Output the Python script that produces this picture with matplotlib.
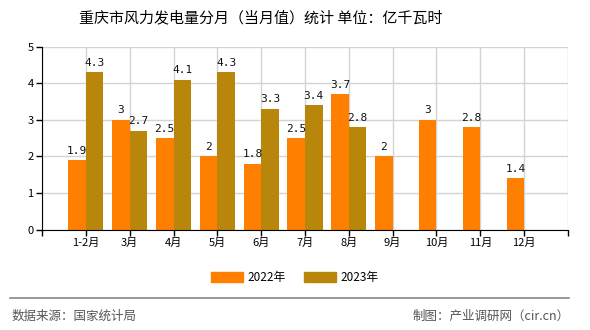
import numpy as np
import matplotlib
matplotlib.use('Agg')
import matplotlib.pyplot as plt
from matplotlib.patches import Patch
from matplotlib.lines import Line2D

plt.rcParams['font.family'] = ['Noto Sans CJK SC', 'DejaVu Sans']

meses = ['1-2月', '3月', '4月', '5月', '6月', '7月', '8月', '9月', '10月', '11月', '12月']
valores_2022 = [1.9, 3, 2.5, 2, 1.8, 2.5, 3.7, 2, 3, 2.8, 1.4]
valores_2023 = [4.3, 2.7, 4.1, 4.3, 3.3, 3.4, 2.8]
titulo = '重庆市风力发电量分月（当月值）统计 单位：亿千瓦时'

cor_2022 = '#FF8000'
cor_2023 = '#B8860B'

fig = plt.figure(figsize=(5.9, 3.3), dpi=100)
ax = fig.add_axes([0.0712, 0.3045, 0.8915, 0.554])

x = np.arange(1, len(meses) + 1)
largura = 0.4
x23 = x[:len(valores_2023)]

b22 = ax.bar(x - largura / 2, valores_2022, largura, color=cor_2022, zorder=3)
b23 = ax.bar(x23 + largura / 2, valores_2023, largura, color=cor_2023, zorder=3)


def rotular(barras, valores):
    for barra, v in zip(barras, valores):
        txt = f'{v:g}'
        ax.text(barra.get_x() + barra.get_width() / 2, v + 0.12, txt,
                ha='center', va='bottom', fontsize=8,
                family=['DejaVu Sans Mono'], color='#111111', zorder=4)


rotular(b22, valores_2022)
rotular(b23, valores_2023)

ax.set_xlim(0, len(meses) + 1)
ax.set_ylim(0, 5)
ax.set_xticks(np.arange(0, len(meses) + 2))
ax.set_xticklabels([''] + meses + [''], fontsize=8)
ax.set_yticks(range(0, 6))
ax.set_yticklabels([str(i) for i in range(6)], fontsize=8)
ax.grid(True, color='#d3d3d3', linewidth=1, zorder=0)
for lado in ['top', 'right']:
    ax.spines[lado].set_visible(False)
for lado in ['left', 'bottom']:
    ax.spines[lado].set_color('black')
    ax.spines[lado].set_zorder(5)
ax.tick_params(axis='both', length=4, width=1, color='black', pad=2)

fig.text(0.442, 0.945, titulo, ha='center', va='center', fontsize=10.8)

fig.legend(handles=[Patch(color=cor_2022, label='2022年'), Patch(color=cor_2023, label='2023年')],
           loc='center', bbox_to_anchor=(0.5, 0.16), ncol=2, frameon=False,
           fontsize=8.5, handlelength=2.7, handleheight=0.9, columnspacing=1.5, handletextpad=0.4)

fig.add_artist(Line2D([0.017, 0.965], [0.097, 0.097], color='#888888', linewidth=1.2))
fig.text(0.02, 0.042, '数据来源：国家统计局', ha='left', va='center', fontsize=9, color='#555555')
fig.text(0.965, 0.042, '制图：产业调研网（cir.cn）', ha='right', va='center', fontsize=9, color='#555555')

fig.savefig('out.png', dpi=100)
plt.close(fig)
